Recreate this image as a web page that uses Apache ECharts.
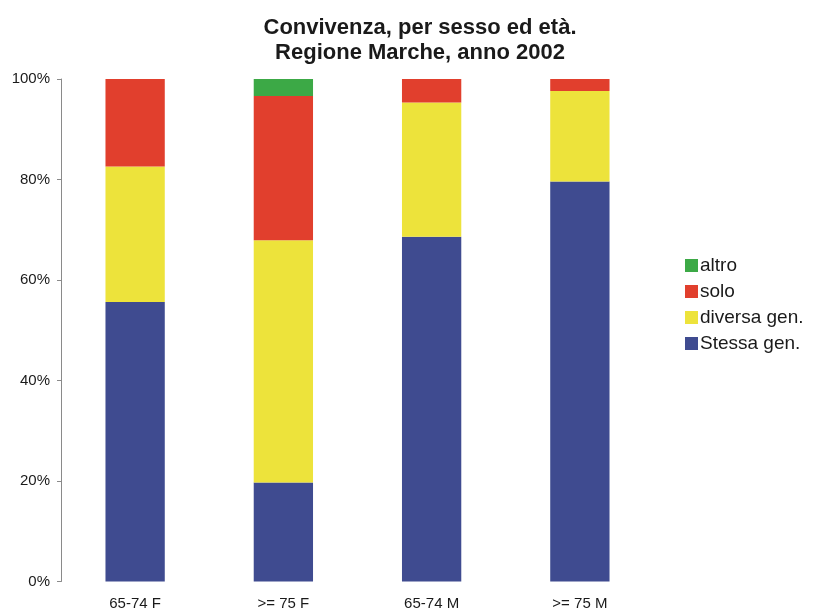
<!DOCTYPE html>
<html>
<head>
<meta charset="utf-8">
<script src="https://cdn.jsdelivr.net/npm/echarts@6/dist/echarts.min.js"></script>
<style>
  html, body { margin: 0; padding: 0; background: #fff; }
  #chart { width: 814px; height: 612px; }
</style>
</head>
<body>
<div id="chart"></div>
<script>
// Age/sex groups on the x axis
var categories = ['65-74 F', '>= 75 F', '65-74 M', '>= 75 M'];

// Share of each living arrangement (percent), stacked bottom to top
var stessaGen  = [55.6, 19.7, 68.6, 79.6];
var diversaGen = [27.0, 48.2, 26.7, 18.0];
var solo       = [17.4, 28.7, 4.7, 2.4];
var altro      = [0.0, 3.4, 0.0, 0.0];

var yTicks = [0, 20, 40, 60, 80, 100];

var font = 'Liberation Sans, Arial, sans-serif';

function barSeries(name, data, color) {
  return {
    name: name,
    type: 'bar',
    stack: 'tot',
    data: data,
    barWidth: '40%',
    itemStyle: { color: color },
    emphasis: { disabled: true }
  };
}

var chart = echarts.init(document.getElementById('chart'), null, { renderer: 'canvas' });
chart.setOption({
  animation: false,
  backgroundColor: '#ffffff',
  title: {
    text: 'Convivenza, per sesso ed età.\nRegione Marche, anno 2002',
    left: 415,
    top: 10,
    textAlign: 'center',
    textStyle: {
      fontFamily: font,
      fontSize: 22,
      fontWeight: 'bold',
      color: '#1a1a1a',
      lineHeight: 25
    }
  },
  legend: {
    orient: 'vertical',
    left: 680,
    top: 251,
    itemWidth: 13,
    itemHeight: 13,
    itemGap: 7,
    icon: 'rect',
    data: ['altro', 'solo', 'diversa gen.', 'Stessa gen.'],
    textStyle: { fontFamily: font, fontSize: 19, color: '#1a1a1a', padding: [0, 0, 0, -3] }
  },
  grid: {
    left: 61,
    right: 160,
    top: 79,
    bottom: 30.5,
    containLabel: false
  },
  xAxis: {
    type: 'category',
    data: categories,
    axisLine: { show: false },
    axisTick: { show: false },
    axisLabel: {
      fontFamily: font,
      fontSize: 15,
      color: '#1a1a1a',
      margin: 15
    }
  },
  yAxis: {
    type: 'value',
    min: 0,
    max: 100,
    interval: 20,
    axisLine: { show: true, lineStyle: { color: '#8a8a8a', width: 1 } },
    axisTick: { show: true, length: 4, lineStyle: { color: '#8a8a8a' } },
    splitLine: { show: false },
    axisLabel: {
      fontFamily: font,
      fontSize: 15,
      color: '#1a1a1a',
      margin: 11,
      formatter: function (v) { return yTicks.indexOf(v) >= 0 ? v + '%' : ''; }
    }
  },
  series: [
    barSeries('Stessa gen.', stessaGen, '#3f4b90'),
    barSeries('diversa gen.', diversaGen, '#ede33b'),
    barSeries('solo', solo, '#e13f2d'),
    barSeries('altro', altro, '#3ca946')
  ]
});
</script>
</body>
</html>
